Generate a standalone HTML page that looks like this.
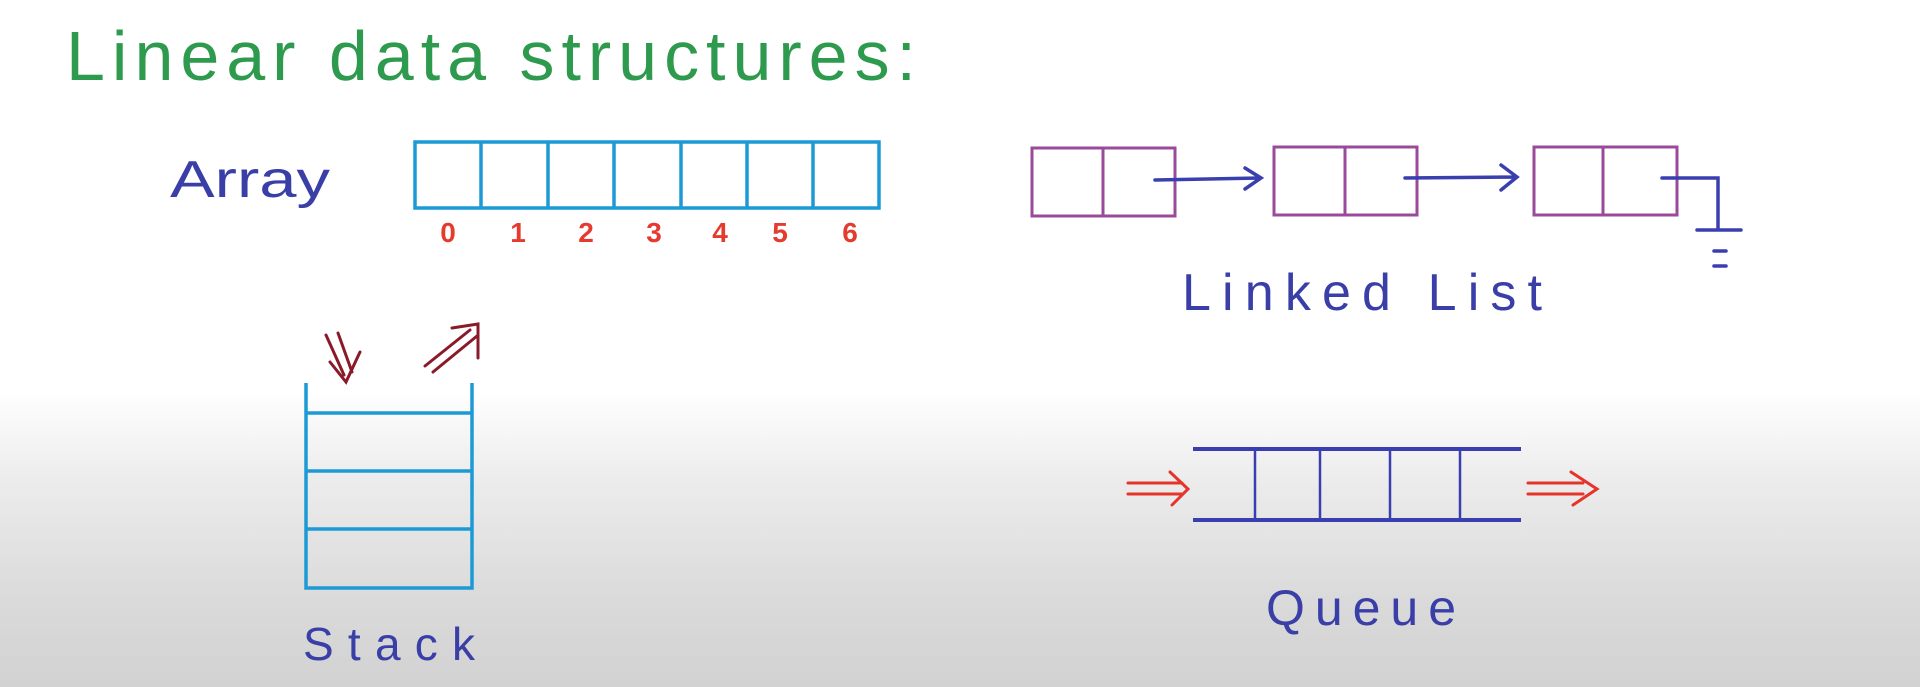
<!DOCTYPE html>
<html><head><meta charset="utf-8"><style>
html,body{margin:0;padding:0}
body{width:1920px;height:687px;overflow:hidden;background:linear-gradient(to bottom,#fff 0px,#fff 390px,#ececec 480px,#dadada 600px,#d2d2d2 687px);font-family:"Liberation Sans",sans-serif}
</style></head><body>
<svg width="1920" height="687" xmlns="http://www.w3.org/2000/svg" style="position:absolute;left:0;top:0">
<text x="66" y="80" font-family="Liberation Sans, sans-serif" font-size="70" fill="#2e9a4e" textLength="850" lengthAdjust="spacing">Linear data structures:</text>
<text x="170" y="197" font-size="52" fill="#3a3fa8" textLength="160" lengthAdjust="spacingAndGlyphs">Array</text>
<g stroke="#1d9ad6" stroke-width="3.5" fill="none">
<rect x="415" y="142" width="464" height="66"/>
<line x1="481" y1="142" x2="481" y2="208"/><line x1="548" y1="142" x2="548" y2="208"/>
<line x1="614" y1="142" x2="614" y2="208"/><line x1="681" y1="142" x2="681" y2="208"/>
<line x1="747" y1="142" x2="747" y2="208"/><line x1="813" y1="142" x2="813" y2="208"/>
</g>
<g fill="#e53a2e" font-size="28" font-weight="bold" text-anchor="middle">
<text x="448" y="242">0</text><text x="518" y="242">1</text><text x="586" y="242">2</text>
<text x="654" y="242">3</text><text x="720" y="242">4</text><text x="780" y="242">5</text><text x="850" y="242">6</text>
</g>
<g stroke="#9a4a9a" stroke-width="3" fill="none">
<rect x="1032" y="148" width="143" height="68"/><line x1="1103" y1="148" x2="1103" y2="216"/>
<rect x="1274" y="147" width="143" height="68"/><line x1="1345" y1="147" x2="1345" y2="215"/>
<rect x="1534" y="147" width="143" height="68"/><line x1="1603" y1="147" x2="1603" y2="215"/>
</g>
<g stroke="#3a3fb0" stroke-width="3.5" fill="none" stroke-linecap="round">
<path d="M1155 180 L1260 178 M1245 168 L1261 178 L1245 189"/>
<path d="M1405 178 L1516 177 M1501 165 L1517 177 L1501 190"/>
<path d="M1662 178 L1718 178 L1718 230 M1697 230 L1741 230 M1714 251 L1726 251 M1714 266 L1726 266"/>
</g>
<text x="1182" y="310" font-size="52" fill="#3a3fa8" textLength="360" lengthAdjust="spacing">Linked List</text>
<g stroke="#1d9ad6" stroke-width="3.5" fill="none">
<path d="M306 383 L306 588 L472 588 L472 383"/>
<line x1="306" y1="413" x2="472" y2="413"/><line x1="306" y1="471" x2="472" y2="471"/><line x1="306" y1="529" x2="472" y2="529"/>
</g>
<g stroke="#8a1a2a" stroke-width="3" fill="none" stroke-linecap="round">
<path d="M326 335 L344 375 M338 333 L352 372 M330 362 L346 382 L360 352"/>
<path d="M425 366 L470 330 M433 372 L477 336 M452 328 L478 324 L478 358"/>
</g>
<text x="303" y="660" font-size="46" fill="#3a3fa8" textLength="172" lengthAdjust="spacing">Stack</text>
<g stroke="#3a3fb0" fill="none">
<line x1="1193" y1="449" x2="1521" y2="449" stroke-width="4"/>
<line x1="1193" y1="520" x2="1521" y2="520" stroke-width="4"/>
<g stroke-width="2.5"><line x1="1255" y1="449" x2="1255" y2="520"/><line x1="1320" y1="449" x2="1320" y2="520"/><line x1="1390" y1="449" x2="1390" y2="520"/><line x1="1460" y1="449" x2="1460" y2="520"/></g>
</g>
<g stroke="#e5342a" stroke-width="3" fill="none" stroke-linecap="round">
<path d="M1128 483 L1182 483 M1128 494 L1182 494 M1170 472 L1188 489 L1172 505"/>
<path d="M1528 483 L1583 483 M1528 494 L1583 494 M1571 472 L1597 489 L1573 505"/>
</g>
<text x="1266" y="625" font-size="50" fill="#3a3fa8" textLength="190" lengthAdjust="spacing">Queue</text>
</svg>
</body></html>
